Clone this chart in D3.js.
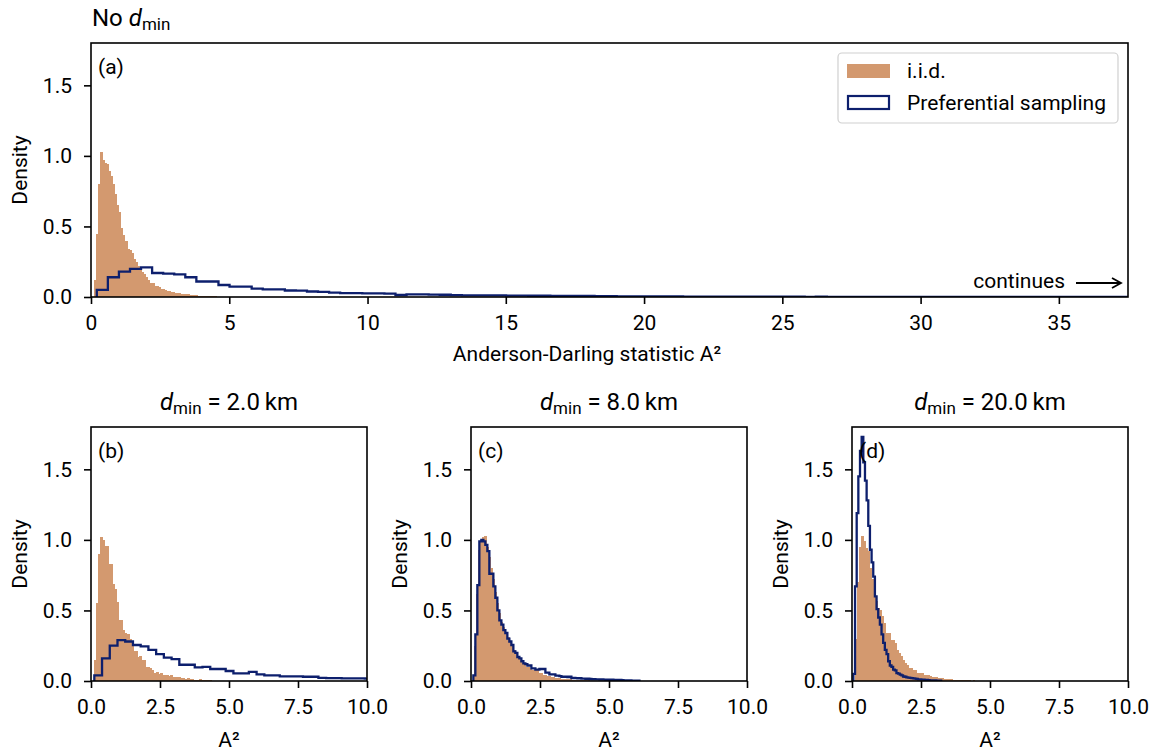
<!DOCTYPE html>
<html><head><meta charset="utf-8">
<script src="https://cdn.jsdelivr.net/npm/d3@7"></script>
<style>body{margin:0;background:#fff} svg{display:block} text{font-family:Roboto,sans-serif;fill:#000}</style>
</head><body><svg id="c" width="1158" height="752"></svg>
<script>
// ---------------- data ----------------
// i.i.d. histograms (density), common bin grid
const iidStart = 0.1, iidWidth = 0.075;
const iidA = [0.12,0.45,0.80,1.03,0.97,0.95,0.94,0.89,0.86,0.80,0.73,0.65,0.60,0.49,0.44,0.40,0.34,0.33,0.31,0.27,0.25,0.22,0.21,0.18,0.16,0.14,0.12,0.10,0.10,0.08,0.075,0.07,0.06,0.055,0.05,0.045,0.04,0.035,0.033,0.03,0.028,0.025,0.022,0.02,0.02,0.018,0.015,0.014,0.012,0.012,0.01,0.01,0.008,0.008,0.006,0.007,0.005,0.004,0.005,0.003,0.003,0.002];
const iidB = [0.15,0.55,0.90,1.02,1.00,0.96,0.96,0.83,0.83,0.69,0.65,0.56,0.43,0.43,0.36,0.34,0.33,0.30,0.27,0.21,0.21,0.17,0.18,0.15,0.15,0.10,0.10,0.09,0.08,0.06,0.065,0.05,0.06,0.045,0.04,0.045,0.035,0.04,0.03,0.03,0.025,0.03,0.02,0.02,0.015,0.02,0.012,0.015,0.01,0.01,0.008,0.012,0.006,0.008,0.005,0.01,0.004,0.003];
const iidC = [0.25,0.62,0.93,0.99,1.02,1.03,0.95,0.88,0.80,0.72,0.63,0.55,0.48,0.42,0.38,0.35,0.31,0.28,0.25,0.22,0.19,0.17,0.15,0.13,0.12,0.10,0.10,0.085,0.08,0.08,0.075,0.06,0.055,0.045,0.045,0.038,0.032,0.03,0.026,0.024,0.02,0.02,0.017,0.015,0.013,0.013,0.011,0.01,0.009,0.008,0.008,0.006,0.006,0.005,0.004,0.004,0.003,0.003];
const iidD = [0.30,0.70,0.95,1.03,0.99,0.94,0.92,0.80,0.72,0.62,0.57,0.52,0.50,0.46,0.41,0.34,0.34,0.29,0.29,0.27,0.22,0.20,0.18,0.15,0.13,0.11,0.09,0.09,0.078,0.078,0.06,0.054,0.054,0.045,0.043,0.043,0.035,0.03,0.03,0.025,0.02,0.02,0.018,0.015,0.013,0.012,0.012,0.01,0.01,0.008,0.01,0.007,0.006,0.005,0.006,0.004,0.003,0.004,0.002,0.002];

// preferential sampling histograms (density), each with own bin grid
const prefAStart = 0.21, prefAWidth = 0.4;
const prefA = [0.05,0.14,0.18,0.20,0.21,0.17,0.165,0.16,0.14,0.11,0.11,0.085,0.073,0.073,0.06,0.054,0.054,0.046,0.045,0.039,0.037,0.031,0.028,0.027,0.026,0.025,0.024,0.014,0.019,0.018,0.017,0.016,0.013,0.012,0.012,0.011,0.011,0.010,0.010,0.009,0.009,0.008,0.008,0.007,0.007,0.006,0.006,0.005,0.005,0.005,0.004,0.004,0.004,0.003,0.003,0.003,0.003,0.002,0.002,0.002,0.002,0.002,0.002,0.002,0.001,0.002,0.001,0.001,0.001,0.001,0.001,0.001,0.001,0.001,0.001,0.001,0.001,0.001,0.001,0.001,0.001,0.001,0.001,0.001,0.001,0.001,0.001,0.001,0.001,0.001,0.001,0.001,0.001,0.001];
const prefBStart = 0.12, prefBWidth = 0.28;
const prefB = [0.04,0.16,0.25,0.29,0.28,0.255,0.245,0.22,0.19,0.165,0.155,0.115,0.115,0.097,0.10,0.085,0.085,0.071,0.054,0.054,0.064,0.047,0.04,0.04,0.033,0.033,0.033,0.03,0.03,0.022,0.02,0.02,0.019,0.018,0.018,0.017,0.016];
const prefCStart = 0.085, prefCWidth = 0.0725;
const prefC = [0.04,0.33,0.68,0.99,1.0,0.99,0.965,0.92,0.76,0.76,0.67,0.59,0.50,0.43,0.40,0.36,0.34,0.30,0.28,0.255,0.21,0.20,0.17,0.16,0.14,0.125,0.12,0.11,0.11,0.09,0.09,0.08,0.08,0.085,0.085,0.085,0.06,0.06,0.047,0.047,0.047,0.038,0.038,0.035,0.03,0.03,0.03,0.028,0.03,0.02,0.022,0.02,0.018,0.02,0.017,0.017,0.015,0.016,0.014,0.012,0.013,0.011,0.012,0.010,0.011,0.01,0.009,0.01,0.008,0.009,0.007,0.008,0.006,0.007,0.006,0.005,0.005,0.004,0.004,0.003,0.003,0.002,0.002];
const prefDStart = 0.05, prefDWidth = 0.06;
const prefD = [0.05,0.67,1.19,1.45,1.63,1.73,1.55,1.42,1.28,1.10,0.93,0.84,0.74,0.60,0.51,0.45,0.40,0.33,0.27,0.22,0.19,0.14,0.11,0.10,0.08,0.075,0.056,0.052,0.045,0.04,0.032,0.03,0.025,0.024,0.022,0.02,0.018,0.017,0.015,0.012,0.011,0.01,0.01,0.008,0.007,0.006,0.005,0.005,0.004,0.004,0.003,0.003,0.002];

// ticks and labels
const yTicks = [0, 0.5, 1.0, 1.5];
const xTicksA = [0, 5, 10, 15, 20, 25, 30, 35];
const xTicksSmall = [0, 2.5, 5, 7.5, 10];
const panelLetters = ["(a)", "(b)", "(c)", "(d)"];
const dminValues = ["2.0", "8.0", "20.0"];
const seriesNames = ["i.i.d.", "Preferential sampling"];

// ---------------- drawing ----------------
const ORANGE = "#D3996F", NAVY = "#0d1f6d";
const svg = d3.select("#c");
const FS = 21, TFS = 24, SFS = 17;

const panels = [
  {left:91, top:43, w:1037, h:254, xmax:37.5, iid:iidA, pref:prefA, ps:prefAStart, pw:prefAWidth, xt:xTicksA, fmt:d3.format("d")},
  {left:91, top:427, w:276, h:254, xmax:10, iid:iidB, pref:prefB, ps:prefBStart, pw:prefBWidth, xt:xTicksSmall, fmt:d3.format(".1f")},
  {left:471, top:427, w:276, h:254, xmax:10, iid:iidC, pref:prefC, ps:prefCStart, pw:prefCWidth, xt:xTicksSmall, fmt:d3.format(".1f")},
  {left:852, top:427, w:276, h:254, xmax:10, iid:iidD, pref:prefD, ps:prefDStart, pw:prefDWidth, xt:xTicksSmall, fmt:d3.format(".1f")}
];

panels.forEach((p, pi) => {
  const g = svg.append("g").attr("transform", `translate(${p.left},${p.top})`);
  const x = d3.scaleLinear().domain([0, p.xmax]).range([0, p.w]);
  const y = d3.scaleLinear().domain([0, 1.8]).range([p.h, 0]);
  const cid = "clip" + pi;
  g.append("clipPath").attr("id", cid).append("rect").attr("width", p.w).attr("height", p.h);
  const pg = g.append("g").attr("clip-path", `url(#${cid})`);

  pg.selectAll("rect.bar").data(p.iid).join("rect").attr("class", "bar")
    .attr("x", (d, i) => x(iidStart + i * iidWidth))
    .attr("width", (d, i) => x(iidStart + (i + 1) * iidWidth) - x(iidStart + i * iidWidth) + 0.6)
    .attr("y", d => y(d))
    .attr("height", d => y(0) - y(d))
    .attr("fill", ORANGE).attr("shape-rendering", "crispEdges");

  const pts = [[p.ps, 0]];
  p.pref.forEach((v, i) => { pts.push([p.ps + i * p.pw, v]); pts.push([p.ps + (i + 1) * p.pw, v]); });
  pts.push([p.ps + p.pref.length * p.pw, 0]);
  pg.append("path").attr("d", d3.line().x(d => x(d[0])).y(d => y(d[1]))(pts))
    .attr("fill", "none").attr("stroke", NAVY).attr("stroke-width", 2.3).attr("stroke-linejoin", "miter");

  const xa = g.append("g").attr("transform", `translate(0,${p.h})`)
    .call(d3.axisBottom(x).tickValues(p.xt).tickFormat(p.fmt).tickSize(7).tickPadding(11));
  const ya = g.append("g")
    .call(d3.axisLeft(y).tickValues(yTicks).tickFormat(d3.format(".1f")).tickSize(7).tickPadding(12));
  [xa, ya].forEach(a => {
    a.select(".domain").remove();
    a.selectAll("line").attr("stroke", "#000").attr("stroke-width", 1.6);
    a.selectAll("text").attr("font-size", FS).attr("font-family", "Roboto").attr("fill", "#000");
  });

  g.append("rect").attr("width", p.w).attr("height", p.h).attr("fill", "none")
    .attr("stroke", "#000").attr("stroke-width", 1.6);

  g.append("text").attr("x", 7).attr("y", 31).attr("font-size", FS).text(panelLetters[pi]);

  g.append("text").attr("transform", `translate(-71,${p.h / 2}) rotate(-90)`)
    .attr("text-anchor", "middle").attr("dy", "0.35em").attr("font-size", FS).text("Density");

  if (pi > 0) {
    const t = g.append("text").attr("x", p.w / 2).attr("y", -17).attr("text-anchor", "middle").attr("font-size", TFS);
    t.append("tspan").attr("font-style", "italic").text("d");
    t.append("tspan").attr("font-size", SFS).attr("dy", 4).text("min");
    t.append("tspan").attr("dy", -4).text(" = " + dminValues[pi - 1] + "\u2009km");
    g.append("text").attr("x", p.w / 2).attr("y", p.h + 66).attr("text-anchor", "middle").attr("font-size", FS).text("A²");
  }
});

// top title
const tt = svg.append("text").attr("x", 92).attr("y", 26).attr("font-size", TFS);
tt.append("tspan").text("No ");
tt.append("tspan").attr("font-style", "italic").text("d");
tt.append("tspan").attr("font-size", SFS).attr("dy", 4).text("min");

// x label of panel (a)
svg.append("text").attr("x", 587).attr("y", 361).attr("text-anchor", "middle").attr("font-size", FS)
  .text("Anderson-Darling statistic A²");

// continues arrow
svg.append("text").attr("x", 1065).attr("y", 288).attr("text-anchor", "end").attr("font-size", FS).text("continues");
svg.append("path").attr("d", "M1076,283 L1121,283 M1112,278 L1121,283 L1112,288")
  .attr("fill", "none").attr("stroke", "#000").attr("stroke-width", 1.8);

// legend
const lg = svg.append("g");
lg.append("rect").attr("x", 838).attr("y", 53).attr("width", 280).attr("height", 70).attr("rx", 4)
  .attr("fill", "#fff").attr("fill-opacity", 0.8).attr("stroke", "#d0d0d0").attr("stroke-width", 1.2);
lg.append("rect").attr("x", 847).attr("y", 64).attr("width", 43).attr("height", 14).attr("fill", ORANGE);
lg.append("rect").attr("x", 848).attr("y", 96).attr("width", 41).attr("height", 13).attr("fill", "#fff")
  .attr("stroke", NAVY).attr("stroke-width", 2.2);
lg.append("text").attr("x", 907).attr("y", 78).attr("font-size", FS).text(seriesNames[0]);
lg.append("text").attr("x", 907).attr("y", 110).attr("font-size", FS).text(seriesNames[1]);
</script></body></html>
